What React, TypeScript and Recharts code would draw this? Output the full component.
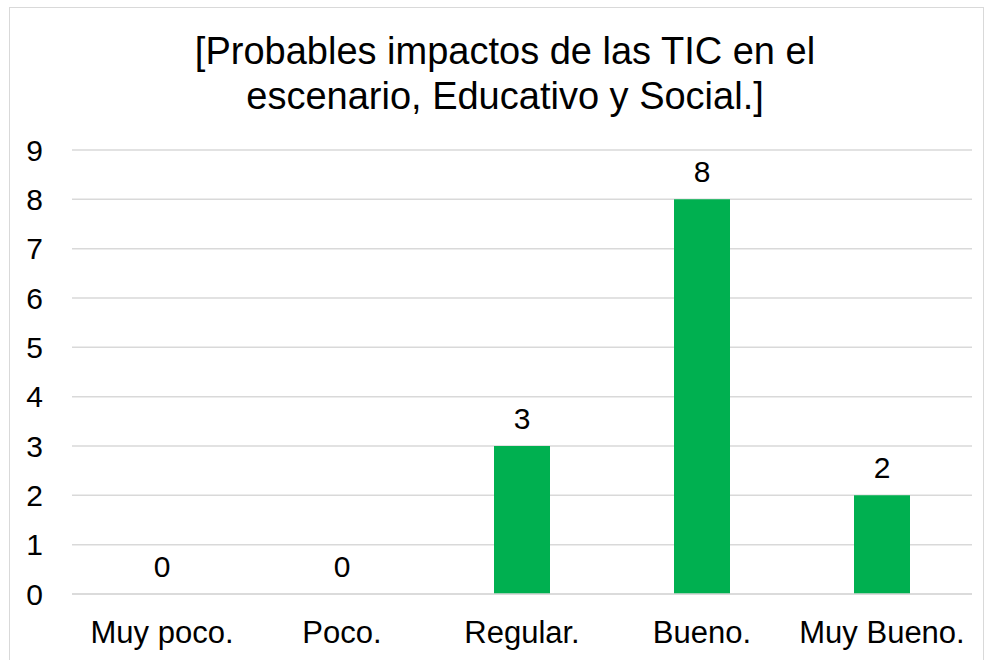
import React from "react";
import { BarChart, Bar, XAxis, YAxis, CartesianGrid, LabelList } from "recharts";

const categories = ["Muy poco.", "Poco.", "Regular.", "Bueno.", "Muy Bueno."];
const values = [0, 0, 3, 8, 2];
const yTicks = [0, 1, 2, 3, 4, 5, 6, 7, 8, 9];
const titleLines = ["[Probables impactos de las TIC en el", "escenario, Educativo y Social.]"];

const data = categories.map((c, i) => ({ name: c, value: values[i] }));
const FONT = "'Liberation Sans', Arial, sans-serif";

export default function App() {
  return (
    <div style={{ position: "absolute", left: 0, top: 0, width: 989, height: 660, background: "#fff", fontFamily: FONT }}>
      <div style={{ position: "absolute", left: 9, top: 7, width: 975, height: 660, border: "1px solid #d9d9d9", boxSizing: "border-box" }} />
      {titleLines.map((t, i) => (
        <div
          key={i}
          style={{
            position: "absolute",
            left: 0,
            width: 1010,
            top: 29 + i * 45,
            textAlign: "center",
            fontSize: 38,
            lineHeight: "45px",
            color: "#000",
            whiteSpace: "nowrap",
          }}
        >
          {t}
        </div>
      ))}
      <div style={{ position: "absolute", left: 0, top: 0 }}>
        <BarChart width={989} height={660} data={data} margin={{ top: 150, right: 17, bottom: 36, left: 0 }}>
          <CartesianGrid vertical={false} stroke="#d9d9d9" strokeWidth={1.5} />
          <XAxis
            dataKey="name"
            axisLine={{ stroke: "#d9d9d9", strokeWidth: 1.5 }}
            tickLine={false}
            tickMargin={21}
            tick={{ fill: "#000", fontSize: 31, fontFamily: FONT }}
            interval={0}
          />
          <YAxis
            width={72}
            domain={[0, 9]}
            ticks={yTicks}
            axisLine={false}
            tickLine={false}
            tickMargin={23}
            tick={{ fill: "#000", fontSize: 30, fontFamily: FONT }}
          />
          <Bar dataKey="value" fill="#00B050" barSize={56} minPointSize={0.01} isAnimationActive={false}>
            <LabelList dataKey="value" position="top" offset={17} fill="#000" fontSize={30} fontFamily={FONT} />
          </Bar>
        </BarChart>
      </div>
    </div>
  );
}
